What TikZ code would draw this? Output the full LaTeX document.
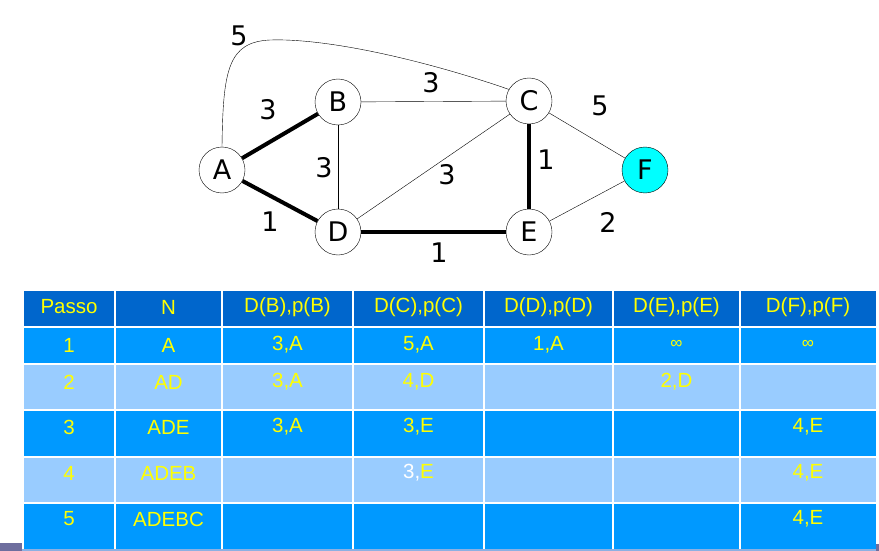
\documentclass[tikz,border=0pt]{standalone}
\usepackage{fontspec}
\setmainfont{Liberation Sans}
\newfontfamily\graphfont{DejaVu Sans}
\definecolor{headblue}{HTML}{0066CC}
\definecolor{rowblue}{HTML}{0099FF}
\definecolor{rowlight}{HTML}{99CCFF}
\definecolor{celltext}{HTML}{FFFF00}
\definecolor{slidebar}{HTML}{6E6E9E}
\definecolor{goalcyan}{HTML}{00FFFF}
\tikzset{
    vertex/.style = {circle, draw, thin, fill = white, minimum size = 46pt, inner sep = 0pt, font = \graphfont\fontsize{27}{27}\selectfont},
    weight/.style = {font = \graphfont\fontsize{27}{27}\selectfont},
    tree/.style = {line width = 4pt},
    cell/.style = {text = celltext, font = \fontsize{20.5}{20.5}\selectfont}
}
\begin{document}
\begin{tikzpicture}[x = 1pt, y = -1pt]
        \useasboundingbox (0,0) rectangle (879,551);
        % graph
        \node[vertex] (A) at (222,170) {A};
        \node[vertex] (B) at (338,102) {B};
        \node[vertex] (C) at (529,101) {C};
        \node[vertex] (D) at (338,232) {D};
        \node[vertex] (E) at (529,232) {E};
        \node[vertex, fill = goalcyan] (F) at (645,170) {F};
        \draw[style = tree] (A) -- (B);
        \draw[style = tree] (A) -- (D);
        \draw[style = tree] (D) -- (E);
        \draw[style = tree] (C) -- (E);
        \draw[thin] (B) -- (C);
        \draw[thin] (B) -- (D);
        \draw[thin] (D) -- (C);
        \draw[thin] (C) -- (F);
        \draw[thin] (E) -- (F);
        \draw[thin] (A.north) .. controls (223,70) and (228,42) .. (270,40) .. controls (330,38) and (430,62) .. (C.150);
        \node[weight] (wAC) at (239,36) {5};
        \node[weight] (wAB) at (268,110) {3};
        \node[weight] (wBC) at (431,83) {3};
        \node[weight] (wCF) at (600,106) {5};
        \node[weight] (wBD) at (324,168) {3};
        \node[weight] (wDC) at (447,175) {3};
        \node[weight] (wCE) at (546,160) {1};
        \node[weight] (wAD) at (270,222) {1};
        \node[weight] (wDE) at (439,253) {1};
        \node[weight] (wEF) at (608,222) {2};
        % table
        \fill[headblue] (23,291) rectangle (876,327);
        \fill[rowblue] (23,327) rectangle (876,364);
        \fill[rowlight] (23,364) rectangle (876,410);
        \fill[rowblue] (23,410) rectangle (876,457);
        \fill[rowlight] (23,457) rectangle (876,503);
        \fill[rowblue] (23,503) rectangle (876,549);
        \draw[white, line width = 1.5pt] (23,327) -- (876,327) (23,364) -- (876,364) (23,410) -- (876,410) (23,457) -- (876,457) (23,503) -- (876,503);
        \draw[white, line width = 1.5pt] (23,291) -- (23,549) (115,291) -- (115,549) (222,291) -- (222,549) (353,291) -- (353,549) (484,291) -- (484,549) (613,291) -- (613,549) (740,291) -- (740,549);
        \fill[slidebar] (0,543) rectangle (22,551);
        \fill[slidebar] (876,544) rectangle (879,551);
        \draw[rowlight!70!slidebar, line width = 1.5pt] (22,550) -- (876,550);
        \node[cell] (h1) at (69,307) {Passo};
        \node[cell] (h2) at (168.5,307) {N};
        \node[cell] (h3) at (287.5,307) {D(B),p(B)};
        \node[cell] (h4) at (418.5,307) {D(C),p(C)};
        \node[cell] (h5) at (548.5,307) {D(D),p(D)};
        \node[cell] (h6) at (676.5,307) {D(E),p(E)};
        \node[cell] (h7) at (808,307) {D(F),p(F)};
        \node[cell] (r1c1) at (69,345) {1};
        \node[cell] (r1c2) at (168.5,345) {A};
        \node[cell] (r1c3) at (287.5,345) {3,A};
        \node[cell] (r1c4) at (418.5,345) {5,A};
        \node[cell] (r1c5) at (548.5,345) {1,A};
        \node[cell, font = \fontsize{17}{17}\selectfont] (r1c6) at (676.5,344) {∞};
        \node[cell, font = \fontsize{17}{17}\selectfont] (r1c7) at (808,344) {∞};
        \node[cell] (r2c1) at (69,382) {2};
        \node[cell] (r2c2) at (168.5,382) {AD};
        \node[cell] (r2c3) at (287.5,382) {3,A};
        \node[cell] (r2c4) at (418.5,382) {4,D};
        \node[cell] (r2c6) at (676.5,382) {2,D};
        \node[cell] (r3c1) at (69,427) {3};
        \node[cell] (r3c2) at (168.5,427) {ADE};
        \node[cell] (r3c3) at (287.5,427) {3,A};
        \node[cell] (r3c4) at (418.5,427) {3,E};
        \node[cell] (r3c7) at (808,427) {4,E};
        \node[cell] (r4c1) at (69,473) {4};
        \node[cell] (r4c2) at (168.5,473) {ADEB};
        \node[cell] (r4c4) at (418.5,473) {\textcolor{white}{3,}E};
        \node[cell] (r4c7) at (808,473) {4,E};
        \node[cell] (r5c1) at (69,519) {5};
        \node[cell] (r5c2) at (168.5,519) {ADEBC};
        \node[cell] (r5c7) at (808,519) {4,E};
    \end{tikzpicture}
\end{document}
